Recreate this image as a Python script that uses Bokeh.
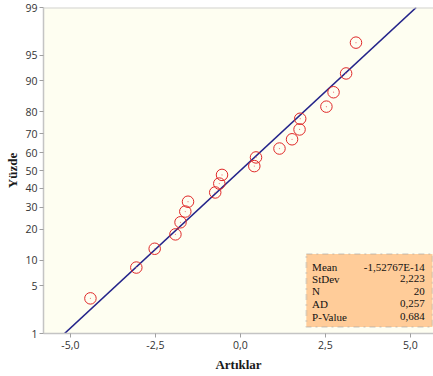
import math
from bokeh.plotting import figure
from bokeh.models import Range1d, FixedTicker, BoxAnnotation, Label, Span, ColumnDataSource
from bokeh.embed import file_html
from bokeh.resources import INLINE

# ---- data ----
residuals = [-4.41, -3.06, -2.52, -1.91, -1.76, -1.62, -1.54, -0.74, -0.62, -0.54,
             0.41, 0.46, 1.15, 1.52, 1.74, 1.76, 2.53, 2.74, 3.11, 3.40]
percents = [3.4, 8.3, 13.2, 18.1, 23.0, 27.9, 32.8, 37.7, 42.6, 47.5,
            52.5, 57.4, 62.3, 67.2, 72.1, 77.0, 81.9, 86.8, 91.7, 96.6]
y_tick_labels = [1, 5, 10, 20, 30, 40, 50, 60, 70, 80, 90, 95, 99]
x_ticks = [-5.0, -2.5, 0.0, 2.5, 5.0]
x_tick_labels = ["-5,0", "-2,5", "0,0", "2,5", "5,0"]
stat_names = ["Mean", "StDev", "N", "AD", "P-Value"]
stat_values = ["-1,52767E-14", "2,223", "20", "0,257", "0,684"]
fit_mean = -1.52767e-14
fit_sd = 2.223


def probit(p):
    # inverse standard normal CDF by bisection on erf
    lo, hi = -10.0, 10.0
    for _ in range(100):
        mid = 0.5 * (lo + hi)
        if 0.5 * (1 + math.erf(mid / math.sqrt(2))) < p:
            lo = mid
        else:
            hi = mid
    return 0.5 * (lo + hi)


z_pts = [probit(v / 100.0) for v in percents]
z_ticks = [probit(v / 100.0) for v in y_tick_labels]
z_lo, z_hi = z_ticks[0], z_ticks[-1]

TICK_FONT = "Open Sans"
SERIF = "Liberation Serif"

p = figure(width=433, height=376, output_backend="svg", toolbar_location=None,
           x_range=Range1d(-5.79, 5.68), y_range=Range1d(z_lo, z_hi),
           min_border_left=43, min_border_right=0, min_border_top=7, min_border_bottom=43)
p.background_fill_color = "#FEFEF1"
p.border_fill_color = "white"
p.outline_line_color = None
p.grid.visible = False

# axes
p.xaxis.ticker = FixedTicker(ticks=x_ticks)
p.xaxis.major_label_overrides = {t: l for t, l in zip(x_ticks, x_tick_labels)}
p.yaxis.ticker = FixedTicker(ticks=z_ticks)
p.yaxis.major_label_overrides = {z: str(l) for z, l in zip(z_ticks, y_tick_labels)}
for ax in (p.xaxis[0], p.yaxis[0]):
    ax.axis_line_color = "#C4C4C4"
    ax.axis_line_width = 1.5
    ax.major_tick_line_color = "#A0A0A0"
    ax.major_tick_in = 0
    ax.major_tick_out = 4
    ax.minor_tick_line_color = None
    ax.major_label_text_font = TICK_FONT
    ax.major_label_text_font_size = "10.5px"
    ax.major_label_text_color = "#333333"
    ax.axis_label_text_font = SERIF
    ax.axis_label_text_font_style = "bold"
    ax.axis_label_text_font_size = "13px"
    ax.axis_label_text_color = "#1A1A1A"
p.xaxis.axis_label = "Artıklar"
p.yaxis.axis_label = "Yüzde"
p.xaxis.major_label_standoff = 3
p.xaxis.axis_label_standoff = 5
p.yaxis.major_label_standoff = 2
p.yaxis.axis_label_standoff = 2

# top border line
p.add_layout(Span(location=z_hi, dimension="width", line_color="#D2D2D2", line_width=2))

# fitted line
line_z = [z_lo, z_hi]
line_x = [fit_mean + fit_sd * z for z in line_z]
p.line(line_x, line_z, line_color="#24248A", line_width=1.6)

# points
src = ColumnDataSource(dict(x=residuals, y=z_pts))
p.scatter("x", "y", source=src, marker="circle", size=11.5, fill_color=None,
          line_color="#E02828", line_width=1)
p.scatter("x", "y", source=src, marker="dot", size=5, line_color="#F08080", fill_color="#F08080")

# stats box
box = BoxAnnotation(left=1.94, right=5.65, bottom=-2.232, top=-1.192,
                    fill_color="#FFCC99", fill_alpha=1.0,
                    line_color="#A0A0A0", line_width=2, line_dash="dashdot")
p.add_layout(box)
row_px = [266.3, 278.3, 290.7, 303.3, 316.0]
px_per_z = 326.0 / (z_hi - z_lo)
z_mid_px = 7 + 326.0 / 2
for name, val, ypx in zip(stat_names, stat_values, row_px):
    zy = -(ypx - z_mid_px) / px_per_z
    p.add_layout(Label(x=2.11, y=zy, text=name, text_font=SERIF, text_font_size="11px",
                       text_color="#111111", text_baseline="middle", text_align="left"))
    p.add_layout(Label(x=5.42, y=zy, text=val, text_font=SERIF, text_font_size="11px",
                       text_color="#111111", text_baseline="middle", text_align="right"))

open("out.html", "w").write(file_html(p, INLINE))
